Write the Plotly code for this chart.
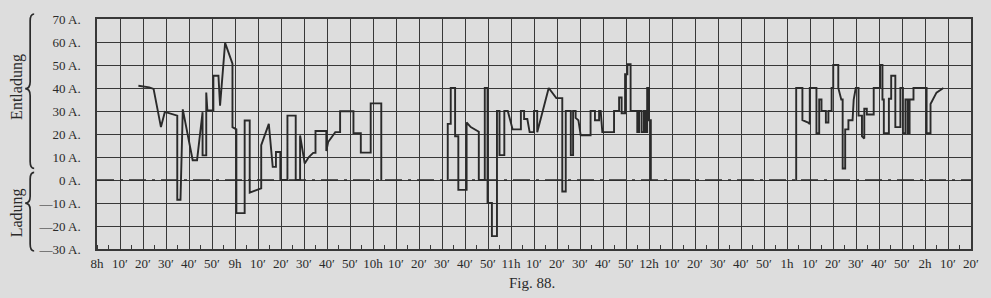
import plotly.graph_objects as go

# time in minutes after 8h, current in A (positive = Entladung, negative = Ladung)
seg1_t = [18, 22.7, 24.6, 27.8, 29.5, 34.2, 34.9, 34.9, 36.3, 37.3, 41.6, 43.5, 45.9, 45.9, 47.5, 47.5,
          48, 50.6, 50.6, 52.8, 53.5, 55.7, 58.9, 58.9, 60.6, 60.6, 64.2, 64.2, 66.4, 66.4, 71.4, 71.4,
          74.7, 76.4, 77.8, 77.8, 79.7, 79.7, 82.8, 82.8, 86.4, 86.4, 88.3, 88.3, 90.3, 92.1, 94, 95, 95,
          99.7, 99.7, 100.5, 103.6, 105.7, 105.7, 111.5, 111.5, 114.7, 114.7, 119, 119, 123.6, 123.6]
seg1_a = [41, 40.3, 39.6, 23, 29.6, 28, 28, -8.6, -8.6, 30.7, 8.6, 8.6, 29.5, 10.7, 10.7, 38,
          30.2, 30.2, 45.3, 45.3, 32.3, 59.6, 50.6, 23, 22, -14.4, -14.4, 25.9, 25.9, -5.5, -3.6, 15.1,
          24.4, 5.7, 5.7, 12.2, 12.2, 0, 0, 28, 28, 0, 0, 19.4, 7.2, 10, 11.8, 11.8, 21.3,
          21.3, 12.6, 16.5, 20.8, 20.8, 29.9, 29.9, 20.4, 20.4, 11.9, 11.9, 33.3, 33.3, 0]

seg2_t = [152.5, 152.5, 153.8, 153.8, 155.7, 155.7, 157.1, 157.1, 160.7, 160.7, 162.5, 165, 166, 166,
          168.6, 168.6, 169.8, 169.8, 171.7, 171.7, 173.9, 173.9, 175, 175, 177.1, 177.1, 178.6, 180.7,
          184.3, 184.3, 185.7, 185.7, 187.1, 188.1, 190, 190, 191.4, 191.4, 196.4, 199.7, 202.3, 202.3,
          203.8, 203.8, 206, 206, 207, 207, 208.1, 208.1, 209.3, 210.3, 214.6, 214.6, 216.5, 216.5,
          218.3, 218.3, 219, 219.7, 224.8, 224.8, 227, 227, 228.1, 228.1, 229.6, 229.6, 230.6, 230.6,
          232, 232, 234.9, 234.9, 235.7, 235.7, 236.8, 236.8, 237.8, 237.8, 238.5, 238.5, 239.2, 239.2,
          240, 240, 240.8, 240.8]
seg2_a = [0, 24.4, 24.4, 40, 40, 19, 19, -4.3, -4.3, 25, 23, 21.6, 21, 0,
          0, 40, 40, -10, -10, -24.4, -24.4, 30, 30, 10.8, 10.8, 30, 30, 22,
          22, 30, 30, 26.5, 26.5, 20.8, 20.8, 30, 30, 20.8, 40, 35.6, 35.6, -5,
          -5, 30, 30, 10.8, 10.8, 30, 30, 27, 26, 19.4, 19.4, 30, 30, 26,
          26, 30, 30, 20.8, 20.8, 30, 30, 35.9, 35.9, 29, 29, 46, 46, 50.3,
          50.3, 30, 30, 20.8, 20.8, 30, 30, 20.8, 20.8, 30, 30, 20.8, 20.8, 40,
          40, 26, 26, 0]

seg3_t = [304, 304, 306.7, 306.7, 309.2, 309.9, 309.9, 312.8, 312.8, 314, 314, 315, 315, 316.9, 316.9,
          318, 318, 319.4, 319.4, 320.1, 320.1, 322.3, 322.3, 323.6, 324.2, 324.2, 325.3, 325.3, 326.7,
          326.7, 328.5, 329, 329.9, 331.1, 331.1, 332.6, 332.6, 333.6, 333.6, 334.7, 334.7, 337.7, 337.7,
          340.5, 340.5, 341.5, 341.5, 342.1, 342.1, 344.3, 344.3, 345.3, 345.3, 347.1, 347.1, 349.3,
          349.3, 350.4, 350.4, 351.5, 351.5, 352.5, 352.5, 353.3, 353.3, 355, 355, 360.7, 360.7, 362.4,
          362.4, 365, 368]
seg3_a = [0, 40, 40, 26, 25, 24.3, 40, 40, 20.3, 20.3, 35, 35, 30, 30, 25,
          25, 30, 30, 40, 40, 50, 50, 40, 35, 35, 5, 5, 22, 22,
          26, 26, 35, 40, 40, 28, 28, 19, 18, 31, 31, 28.5, 28.5, 40,
          40, 50, 50, 35, 35, 20.4, 20.4, 35.3, 35.3, 45.3, 45.3, 23, 23,
          40, 40, 20.4, 20.4, 35, 35, 20.4, 20.4, 35, 35, 40, 40, 20.4, 20.4,
          33, 38, 40]

tick_vals = list(range(0, 381, 10))
tick_text = ["8h", "10′", "20′", "30′", "40′", "50′",
             "9h", "10′", "20′", "30′", "40′", "50′",
             "10h", "10′", "20′", "30′", "40′", "50′",
             "11h", "10′", "20′", "30′", "40′", "50′",
             "12h", "10′", "20′", "30′", "40′", "50′",
             "1h", "10′", "20′", "30′", "40′", "50′",
             "2h", "10′", "20′"]
y_vals = [70, 60, 50, 40, 30, 20, 10, 0, -10, -20, -30]
y_text = ["70 A.", "60 A.", "50 A.", "40 A.", "30 A.", "20 A.", "10 A.", "0 A.",
          "—10 A.", "—20 A.", "—30 A."]

xs, ys = [], []
for t, a in ((seg1_t, seg1_a), (seg2_t, seg2_a), (seg3_t, seg3_a)):
    xs += t + [None]
    ys += a + [None]

BG = "#dddddd"
INK = "#2a2a2a"
GRID = "#383838"
FONT = "Liberation Serif"

fig = go.Figure()
fig.add_trace(go.Scatter(x=xs, y=ys, mode="lines",
                         line=dict(color=INK, width=1.9), hoverinfo="skip",
                         connectgaps=False, showlegend=False))

L, R, T, B = 97, 18, 18, 49
W, H = 991, 298
PW, PH = W - L - R, H - T - B


def px(x):
    return (x - L) / PW


def py(y):
    return (H - B - y) / PH


def brace(ytop, ybot, yc, xr=34, xm=30, xt=25, r=7):
    pts = [
        f"M {px(xr)},{py(ytop)}",
        f"Q {px(xm)},{py(ytop)} {px(xm)},{py(ytop + r)}",
        f"L {px(xm)},{py(yc - r)}",
        f"Q {px(xm)},{py(yc)} {px(xt)},{py(yc)}",
        f"Q {px(xm)},{py(yc)} {px(xm)},{py(yc + r)}",
        f"L {px(xm)},{py(ybot - r)}",
        f"Q {px(xm)},{py(ybot)} {px(xr)},{py(ybot)}",
    ]
    return " ".join(pts)


shapes = [
    dict(type="line", xref="x", yref="y", x0=0, x1=380, y0=0, y1=0,
         line=dict(color=INK, width=1.7, dash="17px,6px,3px,6px"), layer="between"),
    dict(type="path", xref="paper", yref="paper", path=brace(13, 168, 88),
         line=dict(color=INK, width=1.7)),
    dict(type="path", xref="paper", yref="paper", path=brace(172, 251, 203),
         line=dict(color=INK, width=1.7)),
]

annotations = [
    dict(text="Entladung", xref="paper", yref="paper", x=px(17), y=py(86),
         textangle=-90, showarrow=False, font=dict(family=FONT, size=16, color=INK),
         xanchor="center", yanchor="middle"),
    dict(text="Ladung", xref="paper", yref="paper", x=px(17), y=py(213),
         textangle=-90, showarrow=False, font=dict(family=FONT, size=16, color=INK),
         xanchor="center", yanchor="middle"),
    dict(text="Fig. 88.", xref="paper", yref="paper", x=px(533), y=py(283),
         showarrow=False, font=dict(family=FONT, size=15, color=INK),
         xanchor="center", yanchor="middle"),
]

fig.update_layout(
    width=W, height=H,
    margin=dict(l=L, r=R, t=T, b=B, pad=0),
    paper_bgcolor=BG, plot_bgcolor=BG,
    shapes=shapes, annotations=annotations,
    xaxis=dict(range=[0, 380], tickvals=tick_vals, ticktext=tick_text,
               showgrid=True, gridcolor=GRID, gridwidth=1.3,
               zeroline=False, showline=True, linecolor=GRID, linewidth=1.5, mirror=True,
               ticks="", ticklabelstandoff=2,
               minor=dict(tick0=0, dtick=5, ticks="inside", ticklen=4, tickcolor=GRID,
                          showgrid=False),
               tickfont=dict(family=FONT, size=13, color=INK)),
    yaxis=dict(range=[-30, 70], tickvals=y_vals, ticktext=y_text,
               showgrid=True, gridcolor=GRID, gridwidth=1.3,
               zeroline=False, showline=True, linecolor=GRID, linewidth=1.5, mirror=True,
               ticks="", ticklabelstandoff=12,
               tickfont=dict(family=FONT, size=13, color=INK)),
)

fig.write_html("out.html")
